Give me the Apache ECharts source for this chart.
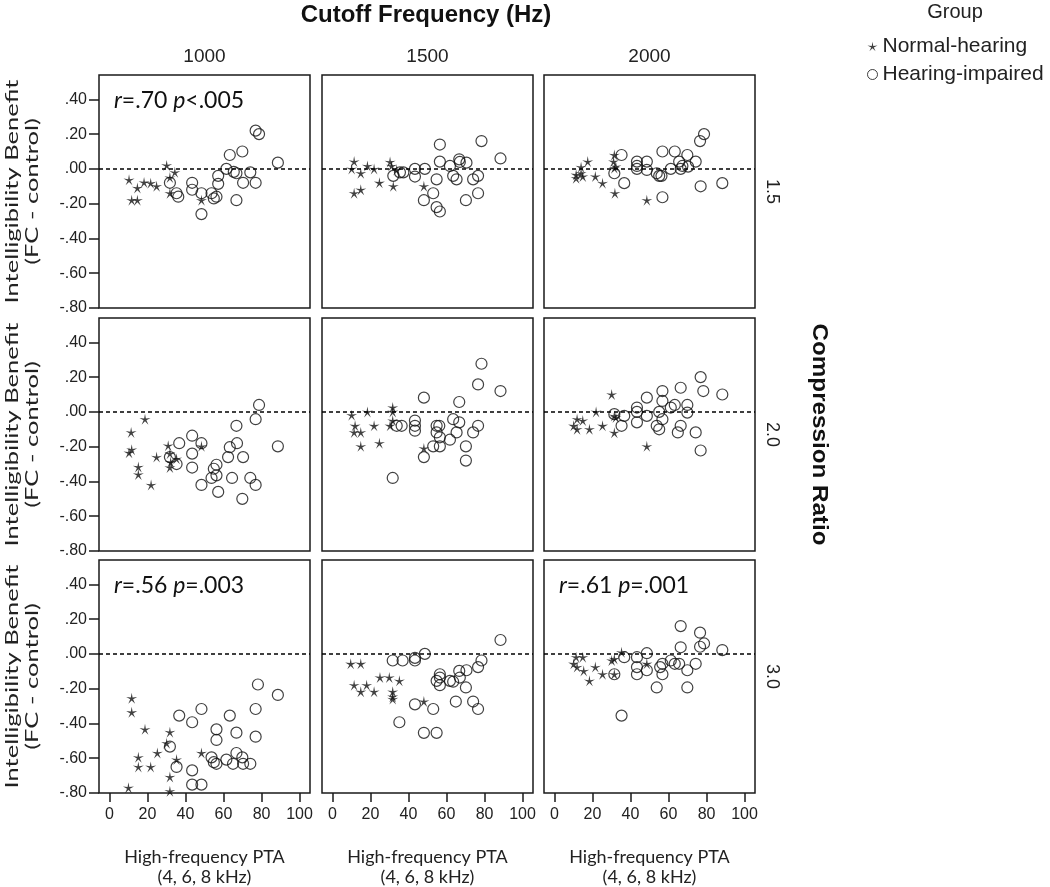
<!DOCTYPE html>
<html><head><meta charset="utf-8">
<script src="https://cdn.jsdelivr.net/npm/echarts@6/dist/echarts.min.js"></script>
<style>html,body{margin:0;padding:0;background:#fff}#c{width:1050px;height:887px}</style>
</head><body><div id="c"></div>
<script>
// ---- Tick labels / categories ----
const xTicks = [0, 20, 40, 60, 80, 100];
const yTicks = [-0.8, -0.6, -0.4, -0.2, 0, 0.2, 0.4];
const cutoffs = ['1000', '1500', '2000'];
const ratios = ['1.5', '2.0', '3.0'];
const groups = ['Normal-hearing', 'Hearing-impaired'];

// ---- Data: [PTA, benefit] ----
// Compression ratio 1.5
const nh_15_1000 = [[10.3,-0.063],[14.7,-0.11],[18.2,-0.078],[21.7,-0.082],[24.8,-0.10],[11.7,-0.18],[14.7,-0.18],[30.1,0.02],[34.4,-0.02],[31.8,-0.05],[31.8,-0.14],[48.4,-0.18]];
const hi_15_1000 = [[31.8,-0.08],[35.3,-0.14],[36.2,-0.16],[43.5,-0.08],[43.5,-0.12],[48.4,-0.14],[48.4,-0.26],[53.7,-0.14],[54.9,-0.17],[56.3,-0.16],[57.2,-0.04],[57.2,-0.086],[61.5,0.0],[63.3,0.08],[65.4,-0.017],[66.8,-0.025],[66.8,-0.18],[69.9,0.10],[70.3,-0.08],[74.1,-0.02],[76.9,-0.08],[76.9,0.22],[78.7,0.20],[88.6,0.036]];
const nh_15_1500 = [[11.4,0.042],[10.1,0.0],[14.9,-0.025],[18.4,0.017],[21.9,0.0],[24.7,-0.08],[11.4,-0.14],[14.9,-0.12],[30.3,0.04],[31.1,0.017],[32.0,-0.10],[33.8,-0.006],[48.1,-0.10]];
const hi_15_1500 = [[32.0,-0.04],[35.5,-0.02],[37.3,-0.02],[43.4,0.0],[43.4,-0.044],[48.6,0.0],[54.8,-0.06],[53.0,-0.14],[48.1,-0.18],[54.8,-0.22],[56.5,-0.245],[56.5,0.14],[56.5,0.042],[61.8,0.017],[63.5,-0.04],[65.3,-0.06],[66.7,0.055],[67.0,0.04],[70.5,0.036],[70.2,-0.18],[74.0,-0.06],[76.6,-0.04],[76.6,-0.14],[78.4,0.16],[88.4,0.06]];
const nh_15_2000 = [[11.4,-0.034],[11.4,-0.054],[14.0,-0.025],[14.9,-0.044],[17.5,0.042],[14.0,0.01],[21.5,-0.044],[25.3,-0.082],[31.5,0.08],[31.1,0.042],[32.3,0.013],[31.5,0.004],[31.8,-0.14],[48.6,-0.18]];
const hi_15_2000 = [[35.3,0.08],[31.5,-0.025],[36.7,-0.082],[43.4,0.042],[43.4,0.017],[43.4,0.0],[48.6,0.042],[48.6,-0.006],[53.8,-0.025],[55.1,-0.04],[56.3,-0.04],[56.8,0.10],[56.8,-0.163],[61.2,0.0],[63.3,0.10],[65.6,0.042],[66.4,0.0],[67.3,0.017],[69.9,0.08],[70.3,0.013],[74.3,0.042],[76.6,0.16],[78.7,0.20],[76.9,-0.10],[88.3,-0.082]];
// Compression ratio 2.0
const nh_20_1000 = [[18.7,-0.042],[11.4,-0.118],[11.7,-0.217],[10.3,-0.235],[15.2,-0.317],[15.2,-0.36],[21.9,-0.42],[24.8,-0.26],[30.9,-0.194],[31.8,-0.24],[32.2,-0.29],[31.8,-0.32],[35.3,-0.27],[48.4,-0.198]];
const hi_20_1000 = [[31.8,-0.26],[35.3,-0.30],[36.7,-0.18],[43.5,-0.137],[43.5,-0.24],[43.5,-0.32],[48.4,-0.18],[48.4,-0.42],[53.7,-0.38],[54.9,-0.327],[56.3,-0.304],[56.3,-0.365],[57.2,-0.46],[62.4,-0.26],[63.3,-0.203],[64.5,-0.38],[66.8,-0.08],[67.1,-0.18],[70.3,-0.26],[69.9,-0.50],[74.1,-0.38],[76.9,-0.42],[76.9,-0.042],[78.7,0.04],[88.6,-0.198]];
const nh_20_1500 = [[10.1,-0.019],[11.9,-0.08],[11.4,-0.118],[14.9,-0.118],[14.9,-0.198],[18.4,0.0],[21.9,-0.08],[24.7,-0.18],[31.7,0.025],[31.7,0.0],[30.3,-0.08],[31.7,-0.05],[48.1,-0.21]];
const hi_20_1500 = [[31.7,-0.38],[33.8,-0.08],[36.4,-0.08],[43.4,-0.05],[43.4,-0.08],[43.4,-0.108],[48.1,0.082],[48.1,-0.26],[53.0,-0.198],[54.8,-0.08],[56.2,-0.08],[54.8,-0.118],[56.5,-0.146],[56.5,-0.198],[61.8,-0.16],[63.5,-0.042],[65.3,-0.118],[66.7,0.057],[66.7,-0.06],[70.2,-0.198],[70.2,-0.28],[74.0,-0.118],[76.6,-0.08],[76.6,0.158],[78.4,0.277],[88.4,0.12]];
const nh_20_2000 = [[30.1,0.10],[21.9,0.0],[11.9,-0.042],[14.9,-0.05],[10.1,-0.08],[11.9,-0.10],[18.4,-0.10],[25.3,-0.08],[31.5,-0.023],[32.3,-0.032],[31.5,-0.12],[48.6,-0.198]];
const hi_20_2000 = [[31.5,-0.013],[35.3,-0.08],[36.7,-0.023],[43.4,0.025],[43.4,0.0],[43.4,-0.06],[48.6,0.082],[48.6,-0.023],[53.8,-0.08],[55.1,-0.10],[55.1,0.0],[56.8,0.12],[56.8,0.063],[56.8,-0.042],[61.2,0.025],[63.3,0.04],[64.9,-0.118],[66.4,0.139],[66.4,-0.08],[69.9,0.04],[69.9,-0.004],[74.3,-0.118],[76.9,0.20],[78.3,0.12],[76.9,-0.222],[88.3,0.10]];
// Compression ratio 3.0
const nh_30_1000 = [[11.7,-0.255],[11.7,-0.336],[18.7,-0.434],[15.2,-0.595],[15.2,-0.65],[21.7,-0.65],[25.2,-0.57],[10.0,-0.77],[31.8,-0.45],[30.1,-0.514],[31.8,-0.708],[31.8,-0.79],[35.3,-0.608],[48.4,-0.57]];
const hi_30_1000 = [[31.8,-0.533],[35.3,-0.65],[36.7,-0.355],[43.5,-0.393],[43.5,-0.67],[43.5,-0.752],[48.4,-0.317],[48.4,-0.752],[53.7,-0.595],[54.9,-0.623],[56.3,-0.434],[56.3,-0.495],[56.3,-0.632],[61.5,-0.608],[63.3,-0.355],[65.0,-0.632],[66.8,-0.453],[66.8,-0.57],[69.9,-0.595],[70.3,-0.632],[74.1,-0.632],[76.9,-0.317],[76.9,-0.476],[78.1,-0.176],[88.6,-0.236]];
const nh_30_1500 = [[9.6,-0.057],[14.9,-0.057],[11.4,-0.18],[14.9,-0.218],[18.0,-0.18],[21.9,-0.218],[25.0,-0.136],[29.9,-0.136],[35.2,-0.155],[31.7,-0.218],[31.7,-0.246],[31.7,-0.26],[48.1,-0.274]];
const hi_30_1500 = [[31.7,-0.038],[36.9,-0.038],[43.4,-0.023],[43.4,-0.038],[48.6,0.0],[43.4,-0.29],[35.2,-0.393],[48.1,-0.454],[54.8,-0.454],[53.0,-0.317],[56.5,-0.117],[56.5,-0.136],[54.8,-0.155],[56.5,-0.18],[61.8,-0.155],[63.5,-0.16],[64.9,-0.274],[66.7,-0.098],[67.0,-0.136],[70.5,-0.094],[70.2,-0.193],[74.0,-0.274],[76.6,-0.317],[76.6,-0.076],[78.4,-0.038],[88.4,0.08]];
const nh_30_2000 = [[11.4,-0.019],[14.9,-0.019],[10.1,-0.057],[11.9,-0.076],[15.4,-0.098],[18.4,-0.155],[21.5,-0.076],[25.3,-0.117],[30.1,-0.038],[31.5,-0.029],[31.5,-0.117],[35.3,0.009],[48.6,-0.057]];
const hi_30_2000 = [[31.5,-0.117],[35.3,-0.355],[36.7,-0.019],[43.4,-0.019],[43.4,-0.076],[43.4,-0.117],[48.6,0.004],[48.6,-0.094],[53.8,-0.193],[55.6,-0.076],[56.8,-0.057],[56.8,-0.117],[61.2,-0.038],[63.3,-0.057],[65.6,-0.057],[66.4,0.038],[66.4,0.16],[69.9,-0.094],[69.9,-0.193],[74.3,-0.057],[76.6,0.122],[76.6,0.041],[78.7,0.06],[88.3,0.022]];

const panelNH = [[nh_15_1000, nh_15_1500, nh_15_2000],[nh_20_1000, nh_20_1500, nh_20_2000],[nh_30_1000, nh_30_1500, nh_30_2000]];
const panelHI = [[hi_15_1000, hi_15_1500, hi_15_2000],[hi_20_1000, hi_20_1500, hi_20_2000],[hi_30_1000, hi_30_1500, hi_30_2000]];
// correlation annotations: [row, col, r, p]
const annotations = [[0, 0, '.70', '<.005'], [2, 0, '.56', '=.003'], [2, 2, '.61', '=.001']];

// ---- Layout ----
const colLeft = [99, 322, 544];
const rowTop = [75, 318, 560];
const W = 211, H = 233;
const sans = 'Liberation Sans, Arial, sans-serif';
const calib = 'Lato, sans-serif';
const starPath = 'path://M50,2 L57.64,41.48 L97.55,36.55 L62.36,56.02 L79.39,92.45 L50,65 L20.61,92.45 L37.64,56.02 L2.45,36.55 L42.36,41.48 Z';

const fmtY = v => Number(v).toFixed(2).replace('0.', '.');

const grid = [], xAxis = [], yAxis = [], series = [], graphic = [];
for (let r = 0; r < 3; r++) {
  for (let c = 0; c < 3; c++) {
    const i = r * 3 + c;
    grid.push({left: colLeft[c], top: rowTop[r], width: W, height: H, show: true,
      borderColor: '#1a1a1a', borderWidth: 1.5, backgroundColor: '#fff'});
    xAxis.push({type: 'value', gridIndex: i, min: -5.5, max: 105.5, position: 'bottom',
      splitLine: {show: false}, axisLine: {show: false, onZero: false},
      axisTick: {show: r === 2, customValues: xTicks, length: 9, lineStyle: {color: '#1a1a1a', width: 1.5}},
      axisLabel: {show: r === 2, customValues: xTicks, fontSize: 16, color: '#222', fontFamily: sans, margin: 14}});
    yAxis.push({type: 'value', gridIndex: i, min: -0.8, max: 0.54, position: 'left',
      splitLine: {show: false}, axisLine: {show: false, onZero: false},
      axisTick: {show: c === 0, customValues: yTicks, length: 10, lineStyle: {color: '#1a1a1a', width: 1.5}},
      axisLabel: {show: c === 0, customValues: yTicks, fontSize: 16, color: '#222', fontFamily: sans, margin: 12, formatter: fmtY}});
    series.push({type: 'scatter', name: groups[0], xAxisIndex: i, yAxisIndex: i,
      data: panelNH[r][c], symbol: starPath, symbolSize: 11,
      itemStyle: {color: '#111'}, z: 3, silent: true});
    series.push({type: 'scatter', name: groups[1], xAxisIndex: i, yAxisIndex: i,
      data: panelHI[r][c], symbol: 'circle', symbolSize: 11,
      itemStyle: {color: 'rgba(0,0,0,0)', borderColor: '#111', borderWidth: 1.2}, z: 4, silent: true,
      markLine: {silent: true, symbol: ['none', 'none'], label: {show: false},
        lineStyle: {color: '#000', type: [4, 3], width: 1.5}, data: [{yAxis: 0}]}});
  }
}

graphic.push({type: 'text', x: 426, y: 15, style: {text: 'Cutoff Frequency (Hz)', font: 'bold 24px ' + sans, fill: '#111', align: 'center', verticalAlign: 'middle'}});
for (let c = 0; c < 3; c++) {
  const cx = colLeft[c] + W / 2;
  graphic.push({type: 'text', x: cx, y: 57, style: {text: cutoffs[c], font: '19px ' + sans, fill: '#222', align: 'center', verticalAlign: 'middle'}});
  graphic.push({type: 'text', x: cx, y: 857, style: {text: 'High-frequency PTA', font: '18px ' + calib, fill: '#222', align: 'center', verticalAlign: 'middle'}});
  graphic.push({type: 'text', x: cx, y: 877, style: {text: '(4, 6, 8 kHz)', font: '18px ' + calib, fill: '#222', align: 'center', verticalAlign: 'middle'}});
}
for (let r = 0; r < 3; r++) {
  const cy = rowTop[r] + H / 2;
  graphic.push({type: 'text', x: 772, y: cy, rotation: -Math.PI / 2, style: {text: ratios[r], font: '18px ' + sans, fill: '#222', align: 'center', verticalAlign: 'middle'}});
  graphic.push({type: 'text', x: 12, y: cy, rotation: Math.PI / 2, scaleX: 1.42, style: {text: 'Intelligibility Benefit', font: '18px ' + calib, fill: '#222', align: 'center', verticalAlign: 'middle'}});
  graphic.push({type: 'text', x: 32, y: cy, rotation: Math.PI / 2, scaleX: 1.42, style: {text: '(FC - control)', font: '18px ' + calib, fill: '#222', align: 'center', verticalAlign: 'middle'}});
}
graphic.push({type: 'text', x: 819, y: rowTop[1] + H / 2, rotation: -Math.PI / 2, scaleX: 1.1, style: {text: 'Compression Ratio', font: 'bold 22px ' + sans, fill: '#111', align: 'center', verticalAlign: 'middle'}});
graphic.push({type: 'text', x: 955, y: 12, style: {text: 'Group', font: '20px ' + sans, fill: '#222', align: 'center', verticalAlign: 'middle'}});
annotations.forEach(([r, c, rv, pv]) => {
  graphic.push({type: 'text', x: colLeft[c] + 15, y: rowTop[r] + 26, style: {
    text: '{i|r}=' + rv + ' {i|p}' + pv, font: '23px ' + calib, fill: '#111', verticalAlign: 'middle',
    rich: {i: {fontStyle: 'italic', fontSize: 23, fontFamily: calib, fill: '#111'}}}});
});

const chart = echarts.init(document.getElementById('c'), null, {renderer: 'canvas'});
chart.setOption({
  animation: false,
  grid, xAxis, yAxis, series, graphic,
  legend: {orient: 'vertical', left: 862, top: 31, itemWidth: 10, itemHeight: 10, itemGap: 7,
    textStyle: {fontSize: 21, color: '#222', fontFamily: sans},
    data: [{name: groups[0], icon: starPath, itemStyle: {color: '#111'}},
           {name: groups[1], icon: 'circle', itemStyle: {color: '#fff', borderColor: '#111', borderWidth: 1}}]}
});
</script></body></html>
